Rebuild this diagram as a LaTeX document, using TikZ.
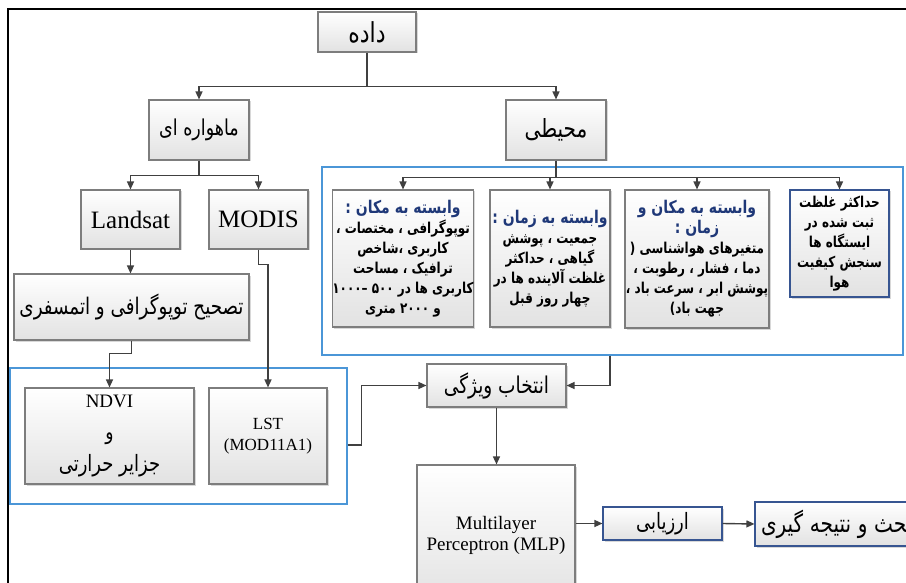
\documentclass[tikz,border=0pt]{standalone}
\usepackage{fontspec}
\usepackage{graphicx}
\setmainfont{Liberation Serif}
\newfontfamily\fa[Script=Arabic]{DejaVu Sans}
\TeXXeTstate=1
\usetikzlibrary{arrows.meta,shadows}
\newcommand\rl[1]{\scalebox{1}[1.25]{\beginR #1\endR}}
\newcommand\hd[1]{{\color{headblue}\fontsize{14}{20}\selectfont\rl{#1}}}
\definecolor{connc}{RGB}{64,64,64}
\definecolor{bordergray}{RGB}{125,125,125}
\definecolor{boxbot}{RGB}{226,226,226}
\definecolor{lightblue}{RGB}{75,150,215}
\definecolor{darkblue}{RGB}{55,85,145}
\definecolor{headblue}{RGB}{31,56,120}
\tikzset{
  gbox/.style={draw=bordergray, line width=1.1pt, top color=white, bottom color=boxbot,
    drop shadow={shadow xshift=1.5pt, shadow yshift=-1.5pt, opacity=0.3},
    inner sep=0pt, align=center},
  bbox/.style={gbox, draw=darkblue},
  sz/.style 2 args={minimum width=#1pt, minimum height=#2pt},
  container/.style={draw=lightblue, line width=1.3pt, inner sep=0pt},
  conn/.style={draw=connc, line width=1.4pt},
  arr/.style={conn, -{Triangle[length=8pt,width=7pt]}},
  fah/.style={font=\fa\fontsize{#1}{#1}\selectfont},
  body/.style={font=\fa\bfseries\fontsize{12}{20}\selectfont}
}
\begin{document}
\begin{tikzpicture}[x=1pt,y=-1pt]
\useasboundingbox (0,0) rectangle (906,583);
\fill[white] (0,0) rectangle (906,583);
% outer frame
\draw[line width=1.5pt] (8,600) -- (8,9) -- (930,9);
% containers
\node[container, sz={337}{136}] (leftc) at (178.5,436) {};
\node[container, sz={581}{188}] (rightc) at (612.5,261) {};
% top boxes
\node[gbox, sz={98}{40}, fah=22] (dade) at (367,32) {\rl{داده}};
\node[gbox, sz={100}{60}, fah=17.5] (mah) at (199,130) {\rl{ماهواره ای}};
\node[gbox, sz={100}{60}, fah=20] (moh) at (556,130) {\rl{محیطی}};
\node[gbox, sz={99}{59}, font=\fontsize{25}{25}\selectfont] (lan) at (130.5,219.5) {Landsat};
\node[gbox, sz={99}{59}, font=\fontsize{25}{25}\selectfont] (mod) at (258.5,219.5) {MODIS};
\node[gbox, sz={235}{66}, fah=18.3] (tas) at (131.5,307) {\rl{تصحیح توپوگرافی و اتمسفری}};
\node[gbox, sz={169}{96}, font=\fontsize{19}{32}\selectfont] (ndvi) at (109.5,436)
  {NDVI\\{\fa\fontsize{17}{32}\selectfont\rl{و}}\\{\fa\fontsize{18}{32}\selectfont\rl{جزایر حرارتی}}};
\node[gbox, sz={118}{96}, font=\fontsize{17}{21}\selectfont] (lst) at (268,436) {LST\\(MOD11A1)};
% environmental boxes
\node[gbox, sz={138}{137}, body] (b1) at (403,258.5)
  {\hd{وابسته به مکان :}\\
   \rl{توپوگرافی ، مختصات ،}\\ \rl{کاربری ،شاخص}\\ \rl{ترافیک ، مساحت}\\
   \rl{کاربری ها در ۵۰۰ –۱۰۰۰}\\ \rl{و ۲۰۰۰ متری}};
\node[gbox, sz={120}{137}, body] (b2) at (550,258.5)
  {\hd{وابسته به زمان :}\\
   \rl{جمعیت ، پوشش}\\ \rl{گیاهی ، حداکثر}\\ \rl{غلظت آلاینده ها در}\\ \rl{چهار روز قبل}};
\node[gbox, sz={144}{138}, body] (b3) at (697,259)
  {\hd{وابسته به مکان و}\\ \hd{زمان :}\\
   \rl{متغیرهای هواشناسی (}\\ \rl{دما ، فشار ، رطوبت ،}\\ \rl{پوشش ابر ، سرعت باد ،}\\ \rl{جهت باد)}};
\node[bbox, sz={99}{107}, body] (b4) at (839.5,243.5)
  {\rl{حداکثر غلظت}\\ \rl{ثبت شده در}\\ \rl{ایستگاه ها}\\ \rl{سنجش کیفیت}\\ \rl{هوا}};
% lower chain
\node[gbox, sz={139}{43}, fah=18.5] (ent) at (496.5,385.5) {\rl{انتخاب ویژگی}};
\node[gbox, sz={158}{140}, font=\fontsize{19}{21}\selectfont] (mlp) at (496,535) {Multilayer\\Perceptron (MLP)};
\node[bbox, sz={119}{33}, fah=18] (arz) at (662.5,523.5) {\rl{ارزیابی}};
\node[bbox, minimum height=44pt, text width=172pt, align=left, fah=20] (bah) at (841,524)
  {\hspace*{6pt}\rl{بحث و نتیجه گیری}};
% connectors
\draw[conn] (dade.south) -- ++(0,34) coordinate (j1);
\draw[arr] (j1) -| (mah.north);
\draw[arr] (j1) -| (moh.north);
\draw[conn] (mah.south) -- ++(0,15) coordinate (j2);
\draw[arr] (j2) -| (lan.north);
\draw[arr] (j2) -| (mod.north);
\draw[arr] (lan.south) -- (lan.south |- tas.north);
\draw[arr] (tas.south) -- ++(0,13) -| (ndvi.north);
\draw[arr] (mod.south) -- ++(0,15) -| (lst.north);
\draw[conn] (moh.south) -- ++(0,17) coordinate (j3);
\draw[arr] (j3) -| (b1.north);
\draw[arr] (j3) -| (b2.north);
\draw[arr] (j3) -| (b3.north);
\draw[arr] (j3) -| (b4.north);
\draw[arr] ([yshift=-9pt]leftc.east) -- ++(14,0) |- (ent.west);
\draw[arr] ([xshift=-2.5pt]rightc.south) |- (ent.east);
\draw[arr] (ent.south) -- (ent.south |- mlp.north);
\draw[arr] (mlp.east |- arz.west) -- (arz.west);
\draw[arr] (arz.east) -- (bah.west);
\end{tikzpicture}
\end{document}
